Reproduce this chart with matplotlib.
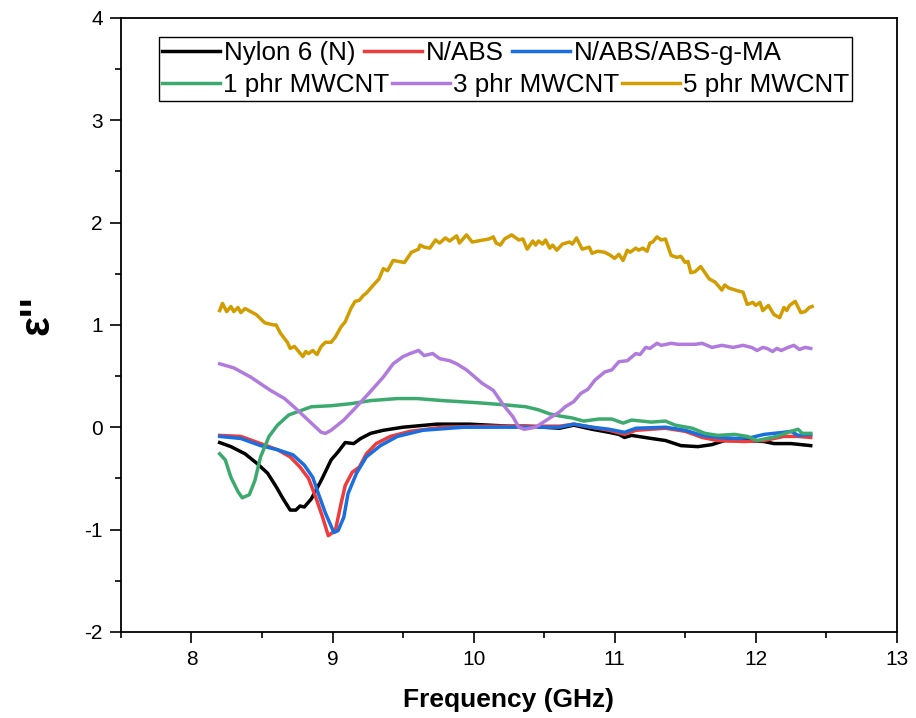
import matplotlib
matplotlib.use("Agg")
import matplotlib.pyplot as plt
from matplotlib.ticker import MultipleLocator
from matplotlib.transforms import Bbox
from matplotlib.patches import Rectangle

plt.rcParams['font.family'] = ['Liberation Sans', 'DejaVu Sans']
plt.rcParams['axes.unicode_minus'] = False

labels = ["Nylon 6 (N)", "N/ABS", "N/ABS/ABS-g-MA", "1 phr MWCNT", "3 phr MWCNT", "5 phr MWCNT"]
colors = ["#000000", "#EE3B3B", "#1A6FE0", "#3CAA6E", "#B07BDC", "#D19D00"]

nylon_x = [8.20, 8.28, 8.38, 8.47, 8.54, 8.60, 8.65, 8.70, 8.74, 8.77, 8.80, 8.85, 8.92, 8.99, 9.04, 9.09, 9.15, 9.20, 9.27, 9.36, 9.50, 9.74, 9.97, 10.25, 10.37, 10.61, 10.71, 10.84, 10.96, 11.03, 11.07, 11.12, 11.26, 11.36, 11.47, 11.59, 11.69, 11.78, 11.92, 12.06, 12.13, 12.25, 12.39]
nylon_y = [-0.15, -0.19, -0.26, -0.36, -0.45, -0.58, -0.70, -0.81, -0.81, -0.77, -0.78, -0.70, -0.52, -0.32, -0.24, -0.15, -0.16, -0.11, -0.06, -0.03, 0.00, 0.03, 0.03, 0.01, 0.01, -0.01, 0.02, -0.02, -0.05, -0.07, -0.10, -0.08, -0.11, -0.13, -0.18, -0.19, -0.17, -0.13, -0.13, -0.14, -0.16, -0.16, -0.18]

abs_x = [8.20, 8.35, 8.49, 8.61, 8.70, 8.77, 8.83, 8.88, 8.93, 8.97, 9.02, 9.06, 9.09, 9.14, 9.19, 9.24, 9.31, 9.41, 9.55, 9.78, 10.07, 10.37, 10.61, 10.71, 10.96, 11.07, 11.15, 11.36, 11.50, 11.62, 11.73, 11.92, 12.06, 12.20, 12.30, 12.39]
abs_y = [-0.08, -0.09, -0.16, -0.22, -0.29, -0.39, -0.50, -0.68, -0.88, -1.06, -1.01, -0.75, -0.57, -0.44, -0.39, -0.26, -0.16, -0.09, -0.04, 0.00, 0.01, 0.01, 0.01, 0.03, -0.03, -0.07, -0.03, -0.01, -0.04, -0.10, -0.13, -0.14, -0.13, -0.09, -0.09, -0.10]

gma_x = [8.20, 8.35, 8.49, 8.61, 8.72, 8.80, 8.86, 8.90, 8.95, 9.01, 9.04, 9.08, 9.11, 9.17, 9.24, 9.34, 9.46, 9.64, 9.93, 10.37, 10.61, 10.71, 10.84, 10.96, 11.07, 11.15, 11.36, 11.50, 11.62, 11.73, 11.87, 11.97, 12.06, 12.20, 12.25, 12.30, 12.39]
gma_y = [-0.09, -0.11, -0.18, -0.22, -0.27, -0.37, -0.49, -0.65, -0.84, -1.03, -1.01, -0.88, -0.65, -0.45, -0.29, -0.18, -0.09, -0.03, 0.00, 0.00, 0.00, 0.03, 0.00, -0.02, -0.05, -0.01, 0.00, -0.03, -0.08, -0.10, -0.11, -0.10, -0.07, -0.05, -0.04, -0.08, -0.07]

c1_x = [8.20, 8.24, 8.28, 8.33, 8.36, 8.41, 8.45, 8.49, 8.55, 8.61, 8.69, 8.77, 8.85, 8.99, 9.13, 9.27, 9.46, 9.60, 9.78, 10.02, 10.21, 10.37, 10.46, 10.54, 10.61, 10.70, 10.78, 10.89, 10.98, 11.06, 11.12, 11.26, 11.36, 11.43, 11.55, 11.64, 11.73, 11.85, 11.94, 12.01, 12.08, 12.15, 12.23, 12.30, 12.33, 12.39]
c1_y = [-0.26, -0.32, -0.49, -0.63, -0.69, -0.66, -0.52, -0.29, -0.09, 0.02, 0.12, 0.16, 0.20, 0.21, 0.23, 0.26, 0.28, 0.28, 0.26, 0.24, 0.22, 0.20, 0.17, 0.13, 0.11, 0.09, 0.06, 0.08, 0.08, 0.04, 0.07, 0.05, 0.06, 0.02, -0.01, -0.06, -0.08, -0.07, -0.09, -0.13, -0.11, -0.09, -0.05, -0.02, -0.06, -0.06]

c3_x = [8.20, 8.30, 8.42, 8.56, 8.66, 8.75, 8.85, 8.92, 8.95, 8.99, 9.08, 9.17, 9.27, 9.36, 9.43, 9.50, 9.55, 9.61, 9.65, 9.71, 9.76, 9.83, 9.88, 9.95, 10.06, 10.14, 10.21, 10.28, 10.32, 10.36, 10.44, 10.54, 10.61, 10.65, 10.71, 10.76, 10.81, 10.86, 10.93, 10.98, 11.03, 11.09, 11.15, 11.18, 11.22, 11.25, 11.30, 11.33, 11.40, 11.45, 11.50, 11.57, 11.62, 11.69, 11.76, 11.84, 11.91, 11.97, 12.01, 12.05, 12.08, 12.12, 12.15, 12.18, 12.23, 12.27, 12.31, 12.35, 12.39]
c3_y = [0.62, 0.58, 0.49, 0.36, 0.28, 0.17, 0.04, -0.05, -0.06, -0.03, 0.07, 0.20, 0.35, 0.49, 0.62, 0.69, 0.72, 0.75, 0.70, 0.72, 0.67, 0.65, 0.62, 0.56, 0.43, 0.36, 0.22, 0.10, 0.00, -0.02, 0.00, 0.09, 0.15, 0.20, 0.25, 0.33, 0.37, 0.46, 0.54, 0.56, 0.64, 0.65, 0.72, 0.71, 0.78, 0.77, 0.82, 0.80, 0.82, 0.81, 0.81, 0.81, 0.82, 0.78, 0.80, 0.78, 0.80, 0.78, 0.75, 0.78, 0.77, 0.74, 0.77, 0.75, 0.78, 0.80, 0.76, 0.78, 0.77]

c5_x = [8.20, 8.22, 8.25, 8.28, 8.30, 8.33, 8.35, 8.38, 8.42, 8.46, 8.52, 8.55, 8.58, 8.60, 8.63, 8.68, 8.70, 8.73, 8.76, 8.79, 8.81, 8.83, 8.86, 8.89, 8.92, 8.95, 8.99, 9.02, 9.06, 9.09, 9.13, 9.16, 9.19, 9.22, 9.24, 9.29, 9.33, 9.36, 9.39, 9.43, 9.47, 9.51, 9.56, 9.61, 9.62, 9.65, 9.69, 9.73, 9.76, 9.80, 9.83, 9.88, 9.90, 9.95, 9.99, 10.07, 10.11, 10.14, 10.16, 10.19, 10.22, 10.27, 10.29, 10.32, 10.35, 10.38, 10.42, 10.44, 10.46, 10.49, 10.51, 10.54, 10.56, 10.59, 10.63, 10.68, 10.70, 10.73, 10.77, 10.82, 10.84, 10.88, 10.93, 10.97, 11.00, 11.03, 11.06, 11.09, 11.11, 11.15, 11.17, 11.20, 11.23, 11.25, 11.27, 11.30, 11.33, 11.36, 11.38, 11.40, 11.44, 11.47, 11.50, 11.52, 11.54, 11.57, 11.61, 11.64, 11.67, 11.71, 11.73, 11.76, 11.78, 11.81, 11.88, 11.91, 11.94, 11.98, 12.00, 12.03, 12.05, 12.09, 12.13, 12.17, 12.20, 12.22, 12.24, 12.28, 12.32, 12.35, 12.38, 12.40]
c5_y = [1.14, 1.21, 1.13, 1.18, 1.13, 1.17, 1.12, 1.16, 1.13, 1.10, 1.02, 1.01, 1.00, 1.00, 0.92, 0.83, 0.77, 0.79, 0.74, 0.69, 0.74, 0.72, 0.75, 0.71, 0.79, 0.83, 0.83, 0.88, 0.98, 1.03, 1.16, 1.23, 1.24, 1.29, 1.31, 1.39, 1.45, 1.55, 1.53, 1.63, 1.62, 1.61, 1.71, 1.74, 1.78, 1.76, 1.75, 1.83, 1.80, 1.85, 1.82, 1.87, 1.80, 1.88, 1.81, 1.83, 1.84, 1.86, 1.80, 1.78, 1.84, 1.88, 1.86, 1.83, 1.84, 1.74, 1.82, 1.78, 1.82, 1.79, 1.83, 1.75, 1.78, 1.73, 1.79, 1.81, 1.79, 1.85, 1.74, 1.76, 1.70, 1.72, 1.71, 1.68, 1.65, 1.69, 1.63, 1.73, 1.71, 1.75, 1.73, 1.75, 1.72, 1.80, 1.81, 1.86, 1.83, 1.84, 1.76, 1.68, 1.66, 1.67, 1.61, 1.62, 1.51, 1.52, 1.57, 1.51, 1.45, 1.42, 1.39, 1.34, 1.39, 1.36, 1.33, 1.32, 1.20, 1.22, 1.19, 1.22, 1.14, 1.19, 1.10, 1.07, 1.17, 1.14, 1.19, 1.23, 1.12, 1.13, 1.17, 1.18]

series = [(nylon_x, nylon_y), (abs_x, abs_y), (gma_x, gma_y), (c1_x, c1_y), (c3_x, c3_y), (c5_x, c5_y)]

fig = plt.figure(figsize=(9.16, 7.18), dpi=100)
ax = fig.add_axes([0.132, 0.120, 0.847, 0.855])

handles = []
for (xs, ys), lab, col in zip(series, labels, colors):
    h, = ax.plot(xs, ys, color=col, lw=2.5, label=lab, solid_joinstyle='round')
    handles.append(h)

ax.set_xlim(7.5, 13)
ax.set_ylim(-2, 4)
ax.xaxis.set_major_locator(MultipleLocator(1))
ax.xaxis.set_minor_locator(MultipleLocator(0.5))
ax.yaxis.set_major_locator(MultipleLocator(1))
ax.yaxis.set_minor_locator(MultipleLocator(0.5))
ax.tick_params(which='major', direction='out', length=8, width=1.2, labelsize=15, pad=5)
ax.tick_params(which='minor', direction='out', length=4.5, width=1.2)
ax.tick_params(top=False, right=False)
for s in ax.spines.values():
    s.set_linewidth(1.3)

ax.set_xlabel("Frequency (GHz)", fontsize=19, fontweight='bold', labelpad=14)
ax.set_ylabel("ε''", fontsize=30, fontweight='bold')
ax.yaxis.set_label_coords(-0.082, 0.516)

leg_kw = dict(loc='center left', ncol=3, fontsize=18.7, frameon=False,
              handlelength=2.25, borderpad=0.0, borderaxespad=0.0)
leg1 = ax.legend([handles[i] for i in (0, 1, 2)], [labels[i] for i in (0, 1, 2)],
                 bbox_to_anchor=(0.0528, 0.943), handletextpad=0.15, columnspacing=0.3,
                 **leg_kw)
ax.add_artist(leg1)
leg2 = ax.legend([handles[i] for i in (3, 4, 5)], [labels[i] for i in (3, 4, 5)],
                 bbox_to_anchor=(0.0528, 0.891), handletextpad=0.1, columnspacing=0.1,
                 **leg_kw)

fig.canvas.draw()
r = fig.canvas.get_renderer()
bb = Bbox.union([leg1.get_window_extent(r), leg2.get_window_extent(r)])
bb = Bbox.from_extents(bb.x0 - 3, bb.y0 - 4, bb.x1 + 3, bb.y1 + 4)
bb_ax = bb.transformed(ax.transAxes.inverted())
ax.add_patch(Rectangle((bb_ax.x0, bb_ax.y0), bb_ax.width, bb_ax.height,
                       transform=ax.transAxes, facecolor='white', edgecolor='black',
                       lw=1.0, zorder=4))
leg1.set_zorder(5)
leg2.set_zorder(5)

fig.savefig("out.png", dpi=100)
